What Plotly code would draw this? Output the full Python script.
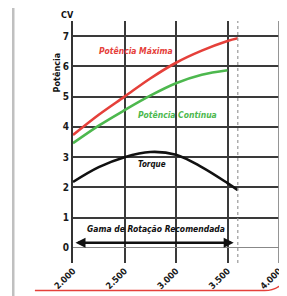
import plotly.graph_objects as go

rpm_max = [2000, 2250, 2500, 2750, 3000, 3250, 3500, 3600]
pot_maxima = [3.73, 4.40, 5.0, 5.60, 6.12, 6.52, 6.84, 6.93]

rpm_cont = [2000, 2250, 2500, 2750, 3000, 3250, 3500]
pot_continua = [3.46, 4.04, 4.55, 5.03, 5.44, 5.72, 5.87]

rpm_torque = [2000, 2250, 2500, 2750, 3000, 3250, 3500, 3600]
torque = [2.18, 2.67, 3.0, 3.17, 3.08, 2.67, 2.14, 1.91]

x_ticks = [2000, 2500, 3000, 3500, 4000]
x_labels = ["2.000", "2.500", "3.000", "3.500", "4.000"]
y_ticks = [0, 1, 2, 3, 4, 5, 6, 7]
y_labels = ["0", "1", "2", "3", "4", "5", "6", "7"]
right_vals = [1, 2, 3]
right_labels = ["1", "1", "1"]

FONT = "Liberation Sans Narrow, DejaVu Sans Condensed, Arial Narrow, sans-serif"
RED = "#e5403a"
GREEN = "#4db84e"

fig = go.Figure()
fig.add_trace(go.Scatter(x=rpm_max, y=pot_maxima, mode="lines",
                         line=dict(color=RED, width=2.6, shape="spline"), hoverinfo="skip"))
fig.add_trace(go.Scatter(x=rpm_cont, y=pot_continua, mode="lines",
                         line=dict(color=GREEN, width=2.6, shape="spline"), hoverinfo="skip"))
fig.add_trace(go.Scatter(x=rpm_torque, y=torque, mode="lines",
                         line=dict(color="#111111", width=2.6, shape="spline"), hoverinfo="skip"))
# partially visible secondary-axis labels on the right edge
fig.add_trace(go.Scatter(x=[x_ticks[-1]] * len(right_vals), y=right_vals, mode="text",
                         text=["<b>" + t + "</b>" for t in right_labels],
                         textposition="middle right", cliponaxis=False,
                         textfont=dict(family=FONT, size=9, color="#e02828"),
                         hoverinfo="skip"))

shapes = [
    dict(type="line", xref="x", yref="paper", x0=rpm_max[-1], x1=rpm_max[-1], y0=0, y1=1,
         line=dict(color="#999999", width=1.2, dash="dot")),
    dict(type="line", xref="x", yref="paper", x0=x_ticks[-1], x1=x_ticks[-1], y0=0, y1=1,
         line=dict(color="#8a8a8a", width=1.8)),
    dict(type="path", xref="paper", yref="paper", path="M -0.29,-0.2 L -0.29,1.1",
         line=dict(color="#c0c0c0", width=2.5)),
    dict(type="path", xref="paper", yref="paper",
         path="M -0.185,-0.114 L 0.93,-0.114 Q 1.0,-0.114 1.04,-0.06",
         line=dict(color=RED, width=1.5)),
]

annotations = [
    dict(x=2607, y=6.51, xref="x", yref="y", text="<b><i>Potência Máxima</i></b>",
         showarrow=False, font=dict(family=FONT, size=8.5, color=RED)),
    dict(x=3019, y=4.40, xref="x", yref="y", text="<b><i>Potência Contínua</i></b>",
         showarrow=False, font=dict(family=FONT, size=8.5, color=GREEN)),
    dict(x=2767, y=2.74, xref="x", yref="y", text="<b><i>Torque</i></b>",
         showarrow=False, font=dict(family=FONT, size=8, color="#111111")),
    dict(x=2806, y=0.63, xref="x", yref="y", text="<b><i>Gama de Rotação Recomendada</i></b>",
         showarrow=False, font=dict(family=FONT, size=8.5, color="#111111")),
    dict(x=3560, y=0.17, ax=2010, ay=0.17, xref="x", yref="y", axref="x", ayref="y",
         text="", showarrow=True, arrowhead=2, arrowside="end+start", arrowsize=0.8,
         arrowwidth=2.5, arrowcolor="#111111"),
    dict(x=0, y=1.0, xref="paper", yref="paper", text="<b>CV</b>", showarrow=False,
         xanchor="center", yanchor="bottom", xshift=-6, yshift=-1,
         font=dict(family=FONT, size=9, color="#111111")),
    dict(x=-0.11, y=0.88, xref="paper", yref="paper", text="<b>Potência</b>", showarrow=False,
         textangle=-90, font=dict(family=FONT, size=9, color="#111111")),
]

fig.update_layout(
    width=279, height=288,
    margin=dict(l=65, r=8, t=13, b=33, autoexpand=False),
    paper_bgcolor="white", plot_bgcolor="white",
    showlegend=False,
    shapes=shapes,
    annotations=annotations,
    xaxis=dict(range=[2000, 4000], tickvals=x_ticks, ticktext=x_labels, tickangle=-45,
               automargin=False,
               showgrid=True, gridcolor="#3a3a3a", gridwidth=1.6, zeroline=False,
               showline=False, ticks="",
               tickfont=dict(family=FONT, size=9, color="#1a1a1a", weight="bold"),
               fixedrange=True),
    yaxis=dict(range=[-0.5, 7.5], tickvals=y_ticks, ticktext=y_labels, automargin=False,
               showgrid=True, gridcolor="#3a3a3a", gridwidth=1.6,
               zeroline=True, zerolinecolor="#888888", zerolinewidth=1.2,
               showline=True, linecolor="#333333", linewidth=2,
               ticks="", tickfont=dict(family=FONT, size=10, color="#1a1a1a", weight="bold"),
               fixedrange=True),
)

fig.write_html("out.html")
